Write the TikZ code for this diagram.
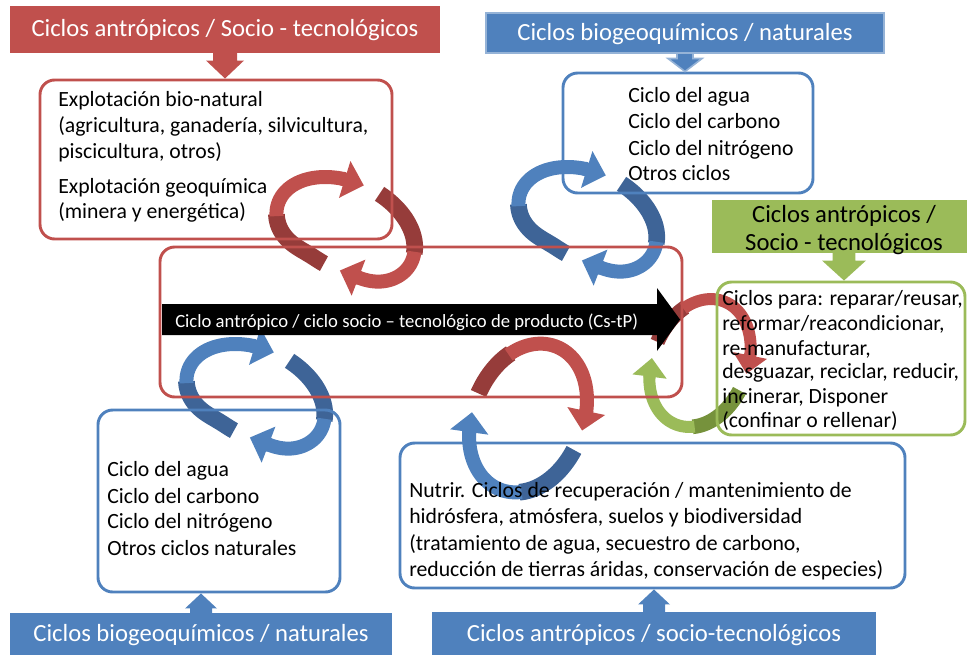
\documentclass[tikz,border=0pt]{standalone}
\usepackage{fontspec}
\setmainfont{Carlito}
\usetikzlibrary{arrows.meta,calc}

\definecolor{cred}{HTML}{C0504D}
\definecolor{credd}{HTML}{963C3A}
\definecolor{cblue}{HTML}{4F81BD}
\definecolor{cblued}{HTML}{3E6497}
\definecolor{cbluel}{HTML}{95B3D7}
\definecolor{cgreen}{HTML}{9BBB59}
\definecolor{cgreend}{HTML}{76923C}

\newcommand\hdrfont{\fontsize{18.5}{21}\selectfont}
\newcommand\boxfont{\fontsize{16.3}{19}\selectfont}
\newcommand\barfont{\fontsize{14}{16}\selectfont}

% geometry of a cycle: conjugate half-axes u=(ux,uy), v=(vx,vy) and a radial profile
\newcommand\setring[5]{\def\rux{#1}\def\ruy{#2}\def\rvx{#3}\def\rvy{#4}\def\rrf{#5}}
% one piece of a cycle band: style, centre x, centre y, start angle, end angle
\newcommand\ringarc[5]{%
  \draw[#1] plot[variable=\t, domain=#4:#5]
    ({#2+\rrf(\t)*(\rux*cos(\t)+\rvx*sin(\t))},
     {#3+\rrf(\t)*(\ruy*cos(\t)+\rvy*sin(\t))});}
% box node from its corners: style, x1, y1, x2, y2, name, text
\newcommand\placebox[7]{%
  \node[#1, minimum width={(#4-#2)*0.75pt}, minimum height={(#5-#3)*0.75pt}]
    (#6) at ({(#2+#4)/2},{(#3+#5)/2}) {#7};}
% wide block arrow: style, from, to, shaft half width, head half width, head length
\newcommand\blockarrow[6]{%
  \path[#1] let \p1=(#2), \p2=(#3), \n1={ifthenelse(\y1>\y2,1,-1)} in
    (\x2-#4,\y1) -- (\x2+#4,\y1) -- (\x2+#4,\y2+\n1*#6) -- (\x2+#5,\y2+\n1*#6)
    -- (\x2,\y2) -- (\x2-#5,\y2+\n1*#6) -- (\x2-#4,\y2+\n1*#6) -- cycle;}

\begin{document}
\begin{tikzpicture}[x=0.75pt,y=-0.75pt,
  declare function={
    rA(\t)=1-0.25/(1+((\t-90)/40)*((\t-90)/40)*((\t-90)/40)*((\t-90)/40))
            -0.25/(1+((\t-450)/40)*((\t-450)/40)*((\t-450)/40)*((\t-450)/40));
    rD(\t)=1-0.13*cos(\t)*cos(\t);},
  hdr/.style={inner sep=0pt, text height=13pt, text depth=1.8pt, font=\hdrfont},
  frame/.style={draw, line width=2.2pt, rounded corners=11pt, inner sep=0pt},
  ln/.style={anchor=base west, inner sep=0pt, font=\boxfont},
  back/.style={line width=12.5pt, samples=50},
  band/.style={line width=10.5pt, samples=50},
  tipseg/.style={line width=10.5pt, samples=2, -{Triangle[width=28pt,length=15pt]}},
  backE/.style={line width=11pt, samples=50},
  bandE/.style={line width=9pt, samples=50},
  tipsegE/.style={line width=9pt, samples=2, -{Triangle[width=25pt,length=14pt]}},
]
\useasboundingbox (0,0) rectangle (967,654);

% ---- cycles between the boxes ----
\setring{66}{32.5}{(-23.5)}{44.5}{rA}
% red cycle, upper left
\ringarc{back,credd}{345}{232}{94}{163}
\ringarc{band,cred}{345}{232}{161}{250}
\ringarc{tipseg,cred}{345}{232}{248}{266}
\ringarc{back,credd}{345}{232}{280}{347}
\ringarc{band,cred}{345}{232}{345}{418}
\ringarc{tipseg,cred}{345}{232}{416}{436}
% blue cycle, upper middle
\ringarc{back,cblued}{587}{222}{94}{163}
\ringarc{band,cblue}{587}{222}{161}{250}
\ringarc{tipseg,cblue}{587}{222}{248}{266}
\ringarc{back,cblued}{587}{222}{280}{347}
\ringarc{band,cblue}{587}{222}{345}{418}
\ringarc{tipseg,cblue}{587}{222}{416}{436}
% blue cycle, lower left
\ringarc{back,cblued}{255}{399}{94}{163}
\ringarc{band,cblue}{255}{399}{161}{250}
\ringarc{tipseg,cblue}{255}{399}{248}{266}
\ringarc{back,cblued}{255}{399}{280}{347}
\ringarc{band,cblue}{255}{399}{345}{418}
\ringarc{tipseg,cblue}{255}{399}{416}{436}

% red / blue cycle, lower middle
\setring{59}{23.3}{(-28.3)}{71.4}{rD}
\ringarc{back,credd}{528}{418}{184}{228}
\ringarc{band,cred}{528}{418}{226}{337}
\ringarc{tipseg,cred}{528}{418}{335}{353}
\ringarc{back,cblued}{528}{418}{11}{72}
\ringarc{band,cblue}{528}{418}{70}{151}
\ringarc{tipseg,cblue}{528}{418}{149}{167}

% red / green cycle, right
\setring{50.7}{20}{(-24.3)}{61.4}{rD}
\ringarc{backE,credd}{700}{363}{184}{228}
\ringarc{bandE,cred}{700}{363}{226}{335}
\ringarc{tipsegE,cred}{700}{363}{333}{353}
\ringarc{backE,cgreend}{700}{363}{11}{72}
\ringarc{bandE,cgreen}{700}{363}{70}{149}
\ringarc{tipsegE,cgreen}{700}{363}{147}{167}

% ---- framed boxes ----
\placebox{frame, draw=cred}{40}{80}{392}{239}{bRed}{}
\placebox{frame, draw=cblue}{563}{73}{813}{193}{bBlueT}{}
\placebox{frame, draw=cgreen}{717}{282}{965}{435}{bGreen}{}
\placebox{frame, draw=cred}{160}{247}{682}{397}{bCen}{}
\placebox{frame, draw=cblue}{98}{410}{340}{592}{bBlueL}{}
\placebox{frame, draw=cblue}{400}{443}{905}{588}{bBlueR}{}

% ---- product cycle bar ----
\fill[black] (162,304) -- (657,304) -- (657,288) -- (680,319.5) -- (657,351)
  -- (657,335) -- (162,335) -- cycle;
\node[anchor=base west, inner sep=0pt, text=white, font=\barfont] (barText) at (175,327)
  {Ciclo antrópico / ciclo socio – tecnológico de producto (Cs-tP)};

% ---- headers ----
\placebox{hdr, fill=cred, text=white}{10}{6}{440}{53}{hRed}{Ciclos antrópicos / Socio - tecnológicos}
\placebox{hdr, fill=cblue, draw=cbluel, line width=1.5pt, text=white}{486}{13}{884}{53}{hBlueT}{Ciclos biogeoquímicos / naturales}
\placebox{hdr, fill=cgreen}{712}{200}{976}{253}{hGreen}{}
\placebox{hdr, fill=cblue, text=white}{10}{613}{392}{656}{hBlueL}{Ciclos biogeoquímicos / naturales}
\placebox{hdr, fill=cblue, text=white}{432}{612}{876}{656}{hBlueR}{Ciclos antrópicos / socio-tecnológicos}
\node[anchor=base, inner sep=0pt, font=\hdrfont] (gh1) at (844,222) {Ciclos antrópicos /};
\node[anchor=base, inner sep=0pt, font=\hdrfont] (gh2) at (844,250) {Socio - tecnológicos};

% ---- block arrows from the headers ----
\blockarrow{fill=cred}{$(hRed.south)+(0,-1)$}{hRed.south |- bRed.north}{9pt}{14.25pt}{13.5pt}
\blockarrow{fill=cblue, draw=cbluel, line width=1.2pt}{$(hBlueT.south)+(0,-1)$}{hBlueT.south |- bBlueT.north}{6pt}{12.75pt}{9.75pt}
\blockarrow{fill=cgreen}{$(hGreen.south)+(0,-1)$}{hGreen.south |- bGreen.north}{8.6pt}{16.5pt}{15pt}
\blockarrow{fill=cblue}{$(hBlueL.north)+(0,1)$}{hBlueL.north |- bBlueL.south}{8.25pt}{12pt}{11.25pt}
\blockarrow{fill=cblue}{$(hBlueR.north)+(0,1)$}{hBlueR.north |- bBlueR.south}{8.25pt}{12pt}{11.25pt}

% ---- box texts ----
\foreach \y/\s [count=\i] in {106/{Explotación bio-natural},
    132/{(agricultura, ganadería, silvicultura,},
    158/{piscicultura, otros)},
    193/{Explotación geoquímica},
    218/{(minera y energética)}}
  \node[ln] (tr\i) at (58,\y) {\s};
\foreach \y/\s [count=\i] in {102/{Ciclo del agua}, 128/{Ciclo del carbono},
    155/{Ciclo del nitrógeno}, 180/{Otros ciclos}}
  \node[ln] (tb\i) at (628,\y) {\s};
\foreach \y/\s [count=\i] in {305/{Ciclos para: reparar/reusar,},
    330/{reformar/reacondicionar,},
    355/{re-manufacturar,},
    378/{desguazar, reciclar, reducir,},
    403/{incinerar, Disponer},
    427/{(confinar o rellenar)}}
  \node[ln] (tg\i) at (722,\y) {\s};
\foreach \y/\s [count=\i] in {476/{Ciclo del agua}, 503/{Ciclo del carbono},
    528/{Ciclo del nitrógeno}, 555/{Otros ciclos naturales}}
  \node[ln] (tl\i) at (107,\y) {\s};
\foreach \y/\s [count=\i] in {497/{Nutrir. Ciclos de recuperación / mantenimiento de},
    523/{hidrósfera, atmósfera, suelos y biodiversidad},
    550/{(tratamiento de agua, secuestro de carbono,},
    576/{reducción de tierras áridas, conservación de especies)}}
  \node[ln] (tn\i) at (409,\y) {\s};
\end{tikzpicture}
\end{document}
